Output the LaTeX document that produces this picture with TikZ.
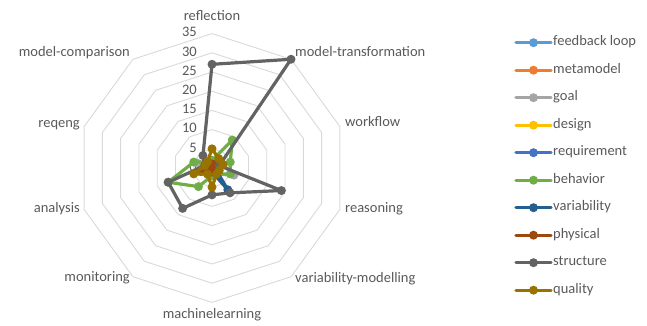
\documentclass[tikz,border=0pt]{standalone}
\usepackage{fontspec}
\setmainfont{Carlito}
\usepackage{tikz}
\usetikzlibrary{positioning}

\definecolor{gridgray}{HTML}{D9D9D9}
\definecolor{labelgray}{HTML}{595959}
\definecolor{feedbackloop}{HTML}{5B9BD5}
\definecolor{metamodel}{HTML}{ED7D31}
\definecolor{goal}{HTML}{A5A5A5}
\definecolor{design}{HTML}{FFC000}
\definecolor{requirement}{HTML}{4472C4}
\definecolor{behavior}{HTML}{70AD47}
\definecolor{variability}{HTML}{255E91}
\definecolor{physical}{HTML}{9E480E}
\definecolor{structure}{HTML}{636363}
\definecolor{quality}{HTML}{997300}

\tikzset{
  x=1pt, y=1pt,
  series/.style={draw=#1, line width=3.2pt, line join=round, line cap=round}
}

% one unit on the value axis
\newcommand{\unitr}{3.84}

% #1 = series name (also its colour), #2 = ten values
\newcommand{\radarseries}[2]{%
  \foreach \v [count=\i from 0] in {#2}
    \coordinate (#1-\i) at ({90-36*\i}:{\v*\unitr});
  \draw[series=#1] (#1-0) \foreach \i in {1,...,9} {-- (#1-\i)} -- cycle;
  \foreach \i in {0,...,9}
    \fill[#1] (#1-\i) circle (4.5);
}

\begin{document}
\begin{tikzpicture}[
    axislabel/.style={text=labelgray, inner sep=0pt, font=\fontsize{14.5}{17}\selectfont,
                      text height=9.5pt, text depth=3pt},
    ticklabel/.style={axislabel, anchor=east}
  ]
  \useasboundingbox (0,0) rectangle (647,326);

  \begin{scope}[shift={(212,158)}]
    % grid
    \foreach \r in {5,10,...,35}
      \draw[gridgray, line width=0.9pt]
        (90:{\r*\unitr}) \foreach \a in {1,...,9} {-- ({90-36*\a}:{\r*\unitr})} -- cycle;
    \foreach \r in {0,5,...,35}
      \node[ticklabel] (tick\r) at (-15,{\r*\unitr}) {\r};

    % axis names
    \node[axislabel] (reflection) at (0,151) {reflection};
    \node[axislabel, anchor=west] (modeltrans) at (83,114.7) {model-transformation};
    \node[axislabel, anchor=west] (workflow) at (133,44.7) {workflow};
    \node[axislabel, anchor=west] (reasoning) at (133,-41.3) {reasoning};
    \node[axislabel, anchor=west] (varmod) at (83,-111.3) {variability-modelling};
    \node[axislabel] (machinelearning) at (0,-147) {machinelearning};
    \node[axislabel, anchor=east] (monitoring) at (-82,-110.3) {monitoring};
    \node[axislabel, anchor=east] (analysis) at (-132,-41.3) {analysis};
    \node[axislabel, anchor=east] (reqeng) at (-132,43.7) {reqeng};
    \node[axislabel, anchor=east] (modelcomp) at (-82,114.7) {model-comparison};

    % data: reflection, model-transformation, workflow, reasoning, variability-modelling,
    %       machinelearning, monitoring, analysis, reqeng, model-comparison
    \radarseries{feedbackloop}{1,1,1,1,1,1,1,1,1,1}
    \radarseries{metamodel}{1,2,1,1,1,1,1,1,1,1}
    \radarseries{goal}{1,2,3,6,2,1,1,2,4,1}
    \radarseries{design}{1,1,1,1,1,1,1,1,1,1}
    \radarseries{requirement}{1,1,1,1,1,1,1,1,1,1}
    \radarseries{behavior}{2,9,5,5,2,2,6,12,5,2}
    \radarseries{variability}{1,1,1,1,7,1,1,1,1,1}
    \radarseries{physical}{1,1,1,1,1,1,1,3,2,1}
    \radarseries{structure}{27,35,2,19,8,7,13,12,2,4}
    \radarseries{quality}{5,3,3,2,2,5,2,5,2,2}
  \end{scope}

  % legend
  \foreach \name/\txt [count=\k from 0] in {feedbackloop/feedback loop, metamodel/metamodel,
      goal/goal, design/design, requirement/requirement, behavior/behavior,
      variability/variability, physical/physical, structure/structure, quality/quality} {
    \coordinate (leg\k-a) at (516,{283.3-27.5*\k});
    \coordinate (leg\k-m) at (533.5,{283.3-27.5*\k});
    \coordinate (leg\k-b) at (551,{283.3-27.5*\k});
    \draw[series=\name] (leg\k-a) -- (leg\k-b);
    \fill[\name] (leg\k-m) circle (4.5);
    \node[axislabel, anchor=west] (legtext\k) at (553,{283.3-27.5*\k}) {\txt};
  }
\end{tikzpicture}
\end{document}
